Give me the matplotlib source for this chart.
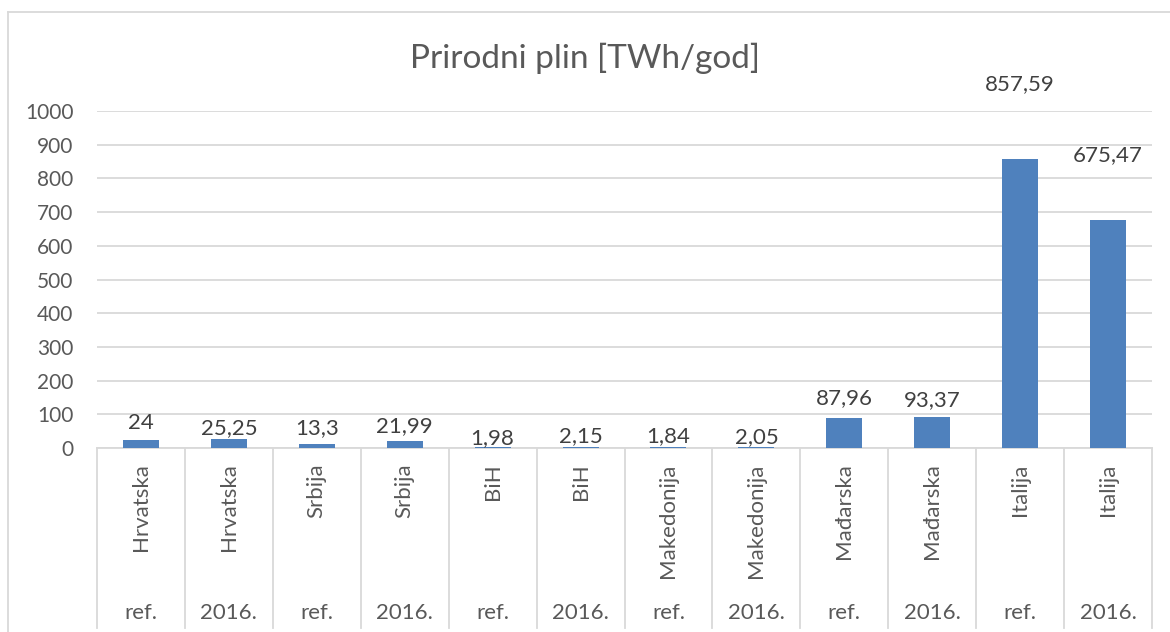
import matplotlib.pyplot as plt
from matplotlib.lines import Line2D
import numpy as np

# podaci
countries = ["Hrvatska", "Hrvatska", "Srbija", "Srbija", "BiH", "BiH",
             "Makedonija", "Makedonija", "Mađarska", "Mađarska", "Italija", "Italija"]
periods = ["ref.", "2016.", "ref.", "2016.", "ref.", "2016.",
           "ref.", "2016.", "ref.", "2016.", "ref.", "2016."]
values = [24, 25.25, 13.3, 21.99, 1.98, 2.15, 1.84, 2.05, 87.96, 93.37, 857.59, 675.47]
value_labels = ["24", "25,25", "13,3", "21,99", "1,98", "2,15", "1,84", "2,05",
                "87,96", "93,37", "857,59", "675,47"]
y_ticks = list(range(0, 1001, 100))

# stil
BAR_COLOR = "#4F81BD"
GRID_COLOR = "#D9D9D9"
TEXT_COLOR = "#595959"
LABEL_COLOR = "#404040"
label_dy = [17, 11, 15, 14, 9, 11, 11, 10, 20, 16, 75, 65]  # px iznad stupca

plt.rcParams['font.family'] = ['Lato', 'DejaVu Sans']

fig = plt.figure(figsize=(11.7, 6.32), dpi=100)
ax = fig.add_axes([97 / 1170, (632 - 448) / 632, (1152 - 97) / 1170, 337 / 632])

x = np.arange(len(values))
ax.bar(x, values, width=0.41, color=BAR_COLOR, zorder=3)

for xi, v, lab, dy in zip(x, values, value_labels, label_dy):
    ax.annotate(lab, (xi, v), xytext=(0, dy), textcoords="offset pixels",
                ha="center", va="center", fontsize=16, color=LABEL_COLOR,
                annotation_clip=False)

ax.set_xlim(-0.5, len(values) - 0.5)
ax.set_ylim(0, 1000)
ax.set_yticks(y_ticks)
ax.set_yticklabels([str(t) for t in y_ticks], fontsize=15, color=TEXT_COLOR)
ax.tick_params(axis="y", length=0, pad=17)
ax.set_xticks([])
ax.yaxis.grid(True, color=GRID_COLOR, linewidth=1.3, zorder=0)
for s in ["left", "right", "top"]:
    ax.spines[s].set_visible(False)
ax.spines["bottom"].set_color(GRID_COLOR)
ax.spines["bottom"].set_linewidth(1.3)

# kategorijska os u dvije razine
trans = ax.get_xaxis_transform()
for b in np.arange(-0.5, len(values), 1.0):
    ax.add_line(Line2D([b, b], [0, -0.535], transform=trans, color=GRID_COLOR,
                       linewidth=1.3, clip_on=False))
for xi, c, p in zip(x, countries, periods):
    ax.text(xi, -0.045, c, transform=trans, rotation=90, ha="center", va="top",
            fontsize=16, color=TEXT_COLOR)
    ax.text(xi, -0.49, p, transform=trans, ha="center", va="center",
            fontsize=16, color=TEXT_COLOR)

fig.text(0.5, 1 - 58 / 632, "Prirodni plin [TWh/god]", ha="center", va="center",
         fontsize=24, color=TEXT_COLOR)

# okvir grafikona
fig.add_artist(Line2D([8 / 1170, 8 / 1170], [0, 1 - 12 / 632], transform=fig.transFigure,
                      color=GRID_COLOR, linewidth=1.3))
fig.add_artist(Line2D([8 / 1170, 1], [1 - 12 / 632, 1 - 12 / 632], transform=fig.transFigure,
                      color=GRID_COLOR, linewidth=1.3))

fig.savefig("out.png", dpi=100)
